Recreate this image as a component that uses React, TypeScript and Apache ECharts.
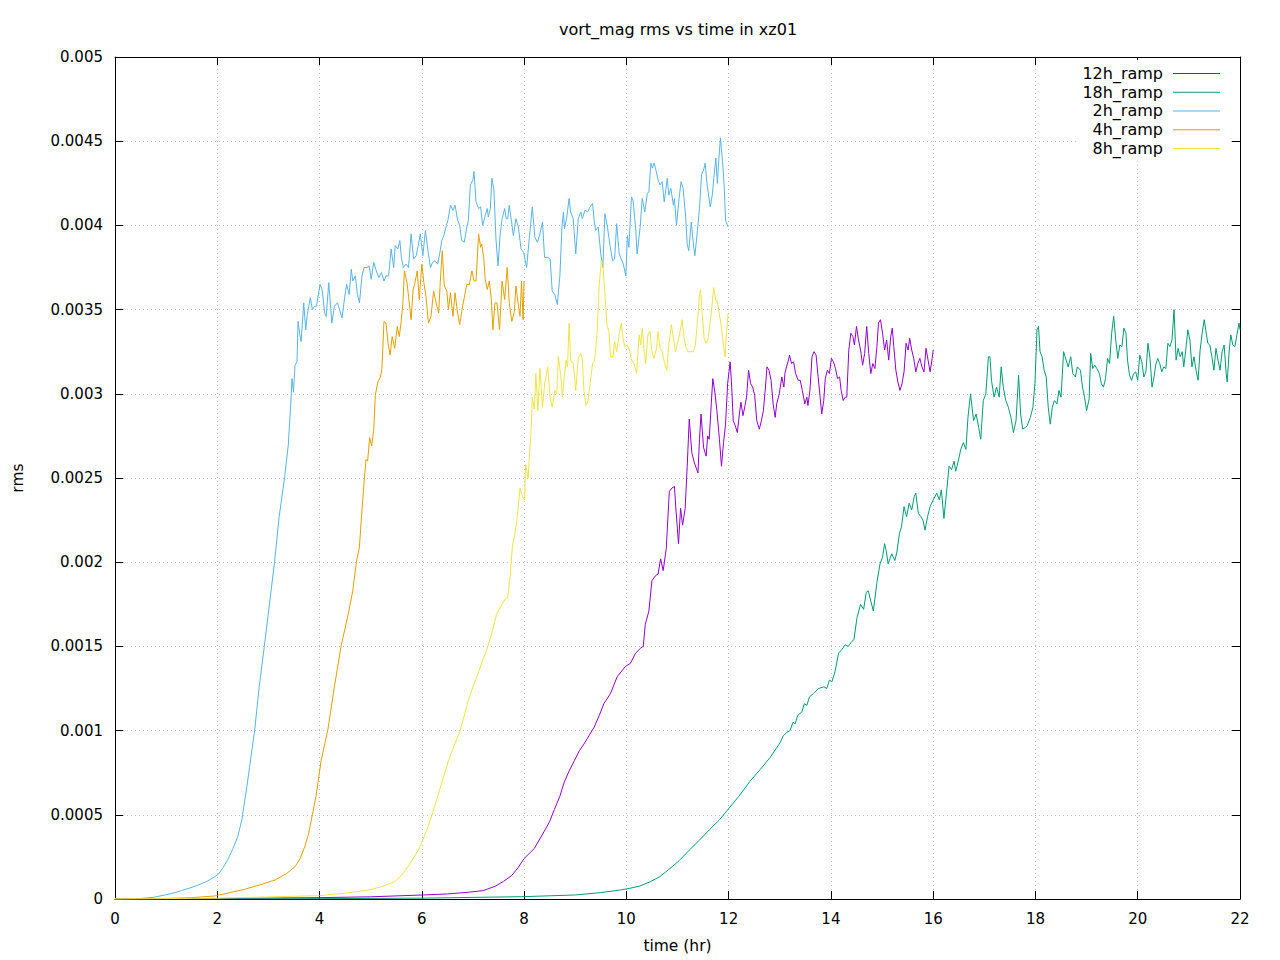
import React, { useEffect, useRef } from "react";
import * as echarts from "echarts";

// values in units of 1e-4 (rms), times in hours
const SCALE = 1e-4;
const seriesNames = ["12h_ramp", "18h_ramp", "2h_ramp", "4h_ramp", "8h_ramp"];
const seriesColors = ["#9400d3", "#009e73", "#56b4e9", "#e69f00", "#f0e442"];
const xTicks = { min: 0, max: 22, interval: 2 };
const yTicks = { min: 0, max: 0.005, interval: 0.0005 };

const ramp12h: number[][] = [
[0,0],[2,0.03],[4,0.08],[5,0.13],[6.03,0.24],[6.5,0.3],[6.91,0.4],[7.2,0.5],[7.43,0.75],[7.6,1.05],[7.76,1.4],[7.88,1.85],[8.0,2.4],[8.2,3.0],[8.39,4.0],[8.5,4.6],[8.59,5.3],[8.7,6.1],[8.78,6.9],[8.88,7.6],[8.98,8.2],[9.08,8.8],[9.17,9.2],[9.27,9.7],[9.37,10.2],[9.47,10.9],[9.56,11.6],[9.69,12.2],[9.82,13.2],[9.98,13.8],[10.08,14.0],[10.18,14.6],[10.28,14.9],[10.33,15.0],[10.37,16.3],[10.44,17.1],[10.5,18.9],[10.57,19.2],[10.62,19.3],[10.67,20.2],[10.72,19.5],[10.78,20.8],[10.84,24.2],[10.89,24.4],[10.94,24.5],[10.97,23.1],[11.02,21.1],[11.06,23.2],[11.1,22.2],[11.15,23.2],[11.19,25.7],[11.23,28.5],[11.28,26.5],[11.33,25.9],[11.4,25.3],[11.43,27.3],[11.46,28.8],[11.51,26.8],[11.56,26.3],[11.59,27.5],[11.62,27.3],[11.66,29.4],[11.69,30.9],[11.73,30.1],[11.77,29.0],[11.82,27.3],[11.86,25.7],[11.9,27.1],[11.94,28.2],[11.98,30.6],[12.03,31.9],[12.06,30.4],[12.09,28.4],[12.13,28.1],[12.17,27.7],[12.21,28.8],[12.24,29.5],[12.28,28.7],[12.32,29.3],[12.35,29.8],[12.39,31.4],[12.43,30.6],[12.47,30.4],[12.51,29.9],[12.55,28.4],[12.6,27.9],[12.64,28.4],[12.68,29.0],[12.72,30.4],[12.75,31.6],[12.79,31.4],[12.83,30.8],[12.87,29.4],[12.91,28.6],[12.94,29.4],[12.99,30.0],[13.04,31.0],[13.08,30.4],[13.1,31.2],[13.14,31.7],[13.17,32.0],[13.19,32.3],[13.23,31.8],[13.27,31.9],[13.31,31.2],[13.36,30.8],[13.4,30.8],[13.44,30.2],[13.49,29.4],[13.53,29.8],[13.55,29.3],[13.59,30.2],[13.63,32.2],[13.67,32.5],[13.71,32.3],[13.75,31.0],[13.79,29.8],[13.82,28.8],[13.86,29.6],[13.89,30.9],[13.93,31.4],[13.97,31.2],[14.01,32.1],[14.05,31.9],[14.09,31.5],[14.13,30.9],[14.17,31.0],[14.2,30.2],[14.24,29.6],[14.28,29.8],[14.31,29.8],[14.35,32.6],[14.39,33.6],[14.43,33.4],[14.46,32.9],[14.5,34.0],[14.54,33.2],[14.58,32.6],[14.62,31.7],[14.66,32.4],[14.7,34.0],[14.74,32.4],[14.78,31.2],[14.82,31.8],[14.86,31.5],[14.9,32.8],[14.93,34.2],[14.97,34.4],[15.01,33.6],[15.05,32.6],[15.09,33.2],[15.13,32.0],[15.17,33.4],[15.2,33.9],[15.23,32.8],[15.27,31.4],[15.31,30.7],[15.35,30.2],[15.39,30.6],[15.43,31.3],[15.47,33.0],[15.51,32.6],[15.54,33.3],[15.58,32.6],[15.62,32.1],[15.66,31.3],[15.7,31.8],[15.74,32.1],[15.78,31.6],[15.82,31.3],[15.86,32.7],[15.9,32.0],[15.94,31.3],[15.98,32.1],[16.0,32.6]
];

const ramp18h: number[][] = [
[0,0],[4,0.02],[6,0.05],[8,0.14],[9,0.24],[9.5,0.38],[9.87,0.53],[10.06,0.63],[10.26,0.77],[10.45,1.0],[10.65,1.32],[10.85,1.8],[11.04,2.3],[11.23,2.9],[11.43,3.5],[11.62,4.1],[11.82,4.7],[12.01,5.4],[12.2,6.1],[12.42,7.0],[12.62,7.7],[12.81,8.4],[13.01,9.3],[13.07,9.7],[13.14,9.9],[13.2,10.0],[13.26,10.5],[13.3,10.4],[13.35,10.9],[13.43,11.1],[13.48,11.6],[13.53,11.5],[13.58,12.0],[13.66,12.2],[13.76,12.5],[13.86,12.6],[13.92,12.5],[13.97,13.0],[14.02,12.9],[14.08,13.5],[14.15,14.6],[14.21,14.8],[14.28,15.1],[14.34,15.0],[14.41,15.3],[14.45,15.4],[14.51,16.7],[14.58,17.5],[14.64,17.2],[14.69,18.2],[14.73,18.3],[14.78,17.7],[14.83,17.1],[14.9,18.8],[14.96,19.9],[15.01,20.3],[15.05,21.1],[15.08,20.7],[15.12,19.9],[15.19,20.5],[15.25,20.1],[15.29,20.6],[15.34,21.7],[15.38,22.1],[15.43,23.3],[15.48,22.7],[15.53,23.5],[15.58,23.1],[15.63,23.9],[15.66,24.1],[15.71,22.9],[15.76,22.7],[15.8,22.5],[15.84,21.9],[15.89,22.7],[15.94,23.3],[16.0,23.7],[16.07,24.1],[16.12,23.7],[16.16,24.3],[16.21,22.6],[16.26,24.1],[16.31,25.7],[16.36,25.5],[16.41,26.0],[16.44,25.4],[16.49,26.0],[16.54,26.7],[16.59,27.1],[16.64,26.7],[16.68,28.6],[16.73,30.0],[16.79,28.4],[16.84,28.8],[16.89,28.0],[16.93,27.3],[16.98,29.6],[17.03,30.0],[17.08,32.2],[17.11,32.2],[17.14,30.8],[17.19,29.8],[17.24,30.4],[17.29,29.8],[17.33,31.6],[17.37,30.4],[17.42,29.6],[17.47,29.2],[17.52,28.6],[17.57,27.7],[17.62,28.4],[17.67,31.1],[17.71,28.8],[17.75,27.9],[17.8,28.0],[17.84,28.1],[17.9,28.6],[17.95,29.2],[17.99,30.6],[18.03,33.8],[18.06,34.0],[18.09,32.5],[18.13,32.2],[18.17,31.4],[18.21,31.0],[18.25,29.2],[18.29,28.2],[18.33,29.2],[18.37,29.6],[18.42,29.4],[18.46,30.2],[18.5,29.8],[18.55,32.5],[18.6,32.0],[18.64,31.6],[18.69,32.2],[18.73,31.2],[18.78,31.0],[18.82,31.6],[18.88,31.4],[18.92,30.4],[18.96,29.8],[19.0,29.0],[19.05,29.7],[19.08,32.4],[19.12,31.5],[19.16,31.7],[19.2,31.5],[19.25,31.2],[19.29,30.6],[19.33,30.4],[19.37,30.9],[19.41,32.1],[19.45,31.8],[19.49,33.6],[19.53,34.6],[19.57,33.2],[19.61,32.1],[19.65,32.9],[19.69,32.8],[19.73,33.9],[19.77,33.6],[19.8,32.0],[19.84,31.1],[19.88,30.8],[19.92,31.2],[19.96,31.3],[20.0,30.8],[20.04,32.3],[20.08,31.9],[20.12,31.0],[20.16,31.3],[20.2,33.0],[20.24,32.1],[20.28,30.4],[20.32,31.0],[20.35,31.7],[20.39,32.1],[20.43,31.8],[20.47,31.3],[20.51,31.6],[20.55,31.5],[20.59,33.0],[20.63,32.8],[20.67,33.2],[20.71,35.0],[20.75,32.0],[20.79,32.7],[20.83,32.2],[20.87,32.5],[20.9,31.6],[20.94,32.6],[20.98,33.8],[21.02,33.2],[21.06,31.6],[21.1,32.2],[21.14,31.4],[21.18,30.8],[21.22,32.6],[21.26,33.6],[21.3,34.4],[21.33,33.8],[21.37,33.0],[21.41,32.9],[21.45,32.2],[21.49,31.4],[21.53,32.7],[21.57,32.0],[21.61,31.4],[21.65,32.5],[21.69,32.9],[21.73,31.2],[21.75,30.7],[21.79,32.6],[21.82,33.5],[21.86,32.9],[21.9,32.8],[21.94,33.5],[21.98,34.2],[22.0,33.8]
];

const ramp2h: number[][] = [
[0,0],[0.5,0.03],[0.75,0.1],[0.98,0.24],[1.15,0.36],[1.3,0.5],[1.47,0.66],[1.63,0.83],[1.8,1.05],[1.95,1.32],[2.03,1.5],[2.1,1.8],[2.2,2.3],[2.3,2.95],[2.4,3.7],[2.48,4.7],[2.53,5.7],[2.58,6.7],[2.63,7.8],[2.68,8.9],[2.73,10.0],[2.82,12.6],[2.92,15.0],[3.02,17.5],[3.12,20.0],[3.21,22.7],[3.32,25.1],[3.39,27.0],[3.45,30.1],[3.46,30.9],[3.49,30.1],[3.52,31.7],[3.56,31.9],[3.58,34.3],[3.61,33.6],[3.64,33.1],[3.69,35.4],[3.73,33.8],[3.76,34.7],[3.82,35.7],[3.86,35.0],[3.9,35.2],[3.94,35.2],[4.01,36.5],[4.05,36.2],[4.1,34.8],[4.13,34.6],[4.18,36.6],[4.24,34.2],[4.29,35.2],[4.35,35.4],[4.39,35.0],[4.44,34.5],[4.49,35.7],[4.53,36.5],[4.58,35.9],[4.62,37.4],[4.65,36.7],[4.7,37.0],[4.74,35.9],[4.78,35.4],[4.83,37.0],[4.87,37.5],[4.93,37.5],[4.97,37.6],[5.01,36.8],[5.06,37.8],[5.11,37.3],[5.16,36.9],[5.21,37.2],[5.26,36.7],[5.3,37.0],[5.35,37.0],[5.4,38.6],[5.45,37.5],[5.48,38.8],[5.53,38.6],[5.57,39.1],[5.6,38.1],[5.64,37.5],[5.69,37.7],[5.74,37.5],[5.79,39.5],[5.84,38.0],[5.89,38.2],[5.93,38.8],[5.97,39.5],[6.02,38.2],[6.07,39.7],[6.12,38.5],[6.17,37.5],[6.21,37.8],[6.26,37.9],[6.31,37.7],[6.36,38.5],[6.39,39.1],[6.43,39.4],[6.48,40.0],[6.51,40.3],[6.56,41.2],[6.61,40.9],[6.65,41.2],[6.7,40.3],[6.74,40.0],[6.78,39.1],[6.83,39.0],[6.88,39.9],[6.91,40.3],[6.95,42.4],[7.0,42.7],[7.02,43.2],[7.06,41.4],[7.11,41.0],[7.15,41.1],[7.19,40.0],[7.24,40.6],[7.28,41.0],[7.3,40.5],[7.34,41.0],[7.37,42.8],[7.41,42.1],[7.45,39.2],[7.49,37.6],[7.53,39.4],[7.57,40.4],[7.62,41.0],[7.65,40.4],[7.68,40.4],[7.71,41.2],[7.76,40.1],[7.79,39.4],[7.84,40.4],[7.89,39.9],[7.94,38.6],[7.99,38.4],[8.05,37.5],[8.1,39.2],[8.16,41.1],[8.21,39.3],[8.26,39.0],[8.31,39.5],[8.36,40.2],[8.4,38.1],[8.46,38.1],[8.51,38.0],[8.55,36.1],[8.6,35.9],[8.65,35.3],[8.7,37.0],[8.74,39.9],[8.77,40.8],[8.79,39.8],[8.83,40.4],[8.88,41.6],[8.91,40.8],[8.96,40.4],[9.01,38.3],[9.06,40.4],[9.11,40.8],[9.14,40.4],[9.19,40.9],[9.24,40.8],[9.29,41.1],[9.34,41.3],[9.37,40.3],[9.4,39.7],[9.45,39.9],[9.5,38.3],[9.54,37.5],[9.58,40.7],[9.63,39.9],[9.68,38.8],[9.73,37.9],[9.77,38.0],[9.81,40.1],[9.86,38.3],[9.9,38.0],[9.94,37.7],[9.99,37.0],[10.02,39.4],[10.05,38.7],[10.1,41.7],[10.13,41.5],[10.18,39.9],[10.21,38.3],[10.27,39.9],[10.31,41.6],[10.36,40.8],[10.41,41.9],[10.44,42.0],[10.48,43.7],[10.51,43.4],[10.54,43.7],[10.57,43.4],[10.62,42.7],[10.66,42.4],[10.7,42.6],[10.74,41.4],[10.77,42.1],[10.8,42.8],[10.83,41.8],[10.87,42.2],[10.92,41.2],[10.94,41.6],[10.98,40.0],[11.03,41.6],[11.07,42.6],[11.11,42.2],[11.16,40.5],[11.19,38.9],[11.22,38.5],[11.27,40.2],[11.31,38.9],[11.34,38.2],[11.39,39.7],[11.43,41.0],[11.47,43.0],[11.52,43.4],[11.54,43.7],[11.58,42.4],[11.64,41.1],[11.68,41.8],[11.71,42.8],[11.75,44.0],[11.78,42.5],[11.81,44.0],[11.84,45.2],[11.88,43.8],[11.91,42.5],[11.94,40.3],[11.99,39.9]
];

const ramp4h: number[][] = [
[0,0],[1,0.03],[1.5,0.08],[1.95,0.18],[2.5,0.55],[2.85,0.85],[3.13,1.13],[3.35,1.5],[3.52,1.92],[3.62,2.4],[3.71,3.1],[3.78,3.8],[3.84,4.7],[3.93,6.1],[4.03,8.2],[4.1,9.2],[4.16,10.0],[4.29,12.6],[4.42,15.0],[4.56,16.9],[4.65,18.3],[4.72,20.0],[4.78,20.9],[4.82,22.7],[4.88,25.1],[4.91,26.1],[4.94,26.0],[4.98,27.4],[5.02,26.9],[5.06,27.9],[5.09,29.9],[5.14,30.7],[5.19,31.0],[5.22,31.5],[5.26,34.3],[5.3,34.2],[5.34,33.0],[5.38,32.3],[5.42,33.4],[5.47,32.7],[5.52,34.0],[5.56,33.4],[5.6,34.4],[5.63,35.4],[5.66,37.3],[5.71,36.6],[5.74,35.8],[5.79,34.4],[5.83,36.2],[5.86,36.5],[5.91,37.3],[5.95,35.6],[6.0,37.7],[6.04,36.6],[6.08,35.8],[6.13,34.2],[6.18,34.6],[6.23,36.1],[6.28,35.4],[6.33,34.8],[6.36,36.6],[6.4,38.5],[6.44,36.4],[6.49,36.1],[6.52,35.0],[6.56,36.0],[6.61,34.6],[6.65,36.0],[6.69,35.0],[6.74,34.1],[6.78,34.9],[6.83,35.7],[6.88,36.5],[6.93,36.5],[6.98,37.3],[7.02,36.7],[7.06,36.7],[7.11,39.5],[7.15,38.7],[7.17,38.9],[7.21,38.1],[7.24,36.8],[7.28,36.2],[7.32,36.7],[7.36,35.6],[7.39,33.8],[7.43,35.4],[7.47,35.4],[7.52,33.8],[7.57,36.7],[7.62,35.6],[7.67,37.5],[7.71,35.4],[7.76,34.3],[7.81,34.9],[7.84,36.4],[7.89,35.2],[7.92,34.6],[7.95,36.7],[7.98,34.4],[8.0,36.7]
];

const ramp8h: number[][] = [
[0,0],[2,0.05],[4.0,0.2],[4.5,0.35],[4.95,0.53],[5.2,0.72],[5.47,1.03],[5.6,1.4],[5.73,1.92],[5.83,2.4],[5.93,2.9],[6.02,3.5],[6.12,4.3],[6.2,5.0],[6.29,5.9],[6.4,7.0],[6.52,8.2],[6.63,9.1],[6.75,10.0],[6.83,10.9],[6.91,11.8],[7.0,12.6],[7.1,13.4],[7.18,14.1],[7.27,14.8],[7.37,15.8],[7.46,16.9],[7.55,17.4],[7.63,17.8],[7.68,17.9],[7.73,19.3],[7.77,20.9],[7.82,21.7],[7.86,22.5],[7.92,24.4],[7.97,23.9],[8.01,23.7],[8.03,25.8],[8.08,25.0],[8.11,26.6],[8.14,28.0],[8.16,29.8],[8.2,29.1],[8.23,31.2],[8.27,29.0],[8.31,31.5],[8.36,29.2],[8.4,30.5],[8.46,31.6],[8.51,29.8],[8.55,29.2],[8.6,30.2],[8.64,30.0],[8.67,32.2],[8.72,31.0],[8.75,29.8],[8.78,30.8],[8.82,32.0],[8.85,31.6],[8.88,34.2],[8.91,32.0],[8.96,31.8],[9.01,30.2],[9.06,32.1],[9.11,32.4],[9.14,32.0],[9.17,30.2],[9.21,29.3],[9.25,29.6],[9.29,30.6],[9.34,31.8],[9.38,32.0],[9.43,33.7],[9.47,36.5],[9.51,37.9],[9.54,37.7],[9.58,35.9],[9.62,34.1],[9.66,33.7],[9.69,32.2],[9.74,32.2],[9.77,33.1],[9.81,32.5],[9.86,33.5],[9.9,34.2],[9.94,33.2],[9.97,32.8],[10.02,32.9],[10.07,32.5],[10.1,32.0],[10.15,31.8],[10.2,31.2],[10.25,33.5],[10.28,32.9],[10.31,33.9],[10.35,32.5],[10.38,31.8],[10.42,33.5],[10.46,33.7],[10.5,32.5],[10.54,32.1],[10.59,32.7],[10.62,33.7],[10.66,32.7],[10.7,32.5],[10.75,31.8],[10.79,31.4],[10.83,32.9],[10.88,34.1],[10.92,33.3],[10.96,32.5],[11.01,33.1],[11.05,33.7],[11.09,34.4],[11.13,33.3],[11.17,32.7],[11.21,32.5],[11.26,32.5],[11.31,32.5],[11.35,32.9],[11.39,34.3],[11.43,35.9],[11.45,36.2],[11.49,34.5],[11.52,33.3],[11.56,33.0],[11.6,33.3],[11.65,34.5],[11.69,35.7],[11.71,36.3],[11.75,35.5],[11.78,35.5],[11.82,34.7],[11.86,33.9],[11.9,32.9],[11.93,32.2],[11.96,33.7],[11.99,34.8]
];

const seriesData = [ramp12h, ramp18h, ramp2h, ramp4h, ramp8h];

const FONT = "DejaVu Sans";

export default function App() {
  const ref = useRef<HTMLDivElement>(null);
  useEffect(() => {
    if (!ref.current) return;
    const chart = echarts.init(ref.current, null, { renderer: "svg" });
    const fmtY = (v: number) => (v === 0 ? "0" : String(parseFloat(v.toFixed(4))));
    const tickCommon = { show: true, inside: true, length: 8, lineStyle: { color: "#000", width: 1 } };
    const lineCommon = { show: true, onZero: false, lineStyle: { color: "#000", width: 1 } };
    chart.setOption({
      animation: false,
      backgroundColor: "#fff",
      color: seriesColors,
      textStyle: { fontFamily: FONT },
      title: {
        text: "vort_mag rms vs time in xz01",
        left: 559,
        top: 21,
        padding: 0,
        textStyle: { fontFamily: FONT, fontSize: 16, fontWeight: "normal", color: "#000" },
      },
      grid: { left: 115, right: 40, top: 57, bottom: 61, containLabel: false },
      legend: {
        orient: "vertical",
        right: 52,
        top: 60,
        align: "right",
        icon: "rect",
        itemWidth: 47,
        itemHeight: 1,
        itemGap: 0,
        padding: [4, 8, 4, 6],
        backgroundColor: "#fff",
        selectedMode: false,
        data: seriesNames.map((name, i) => ({ name, itemStyle: { color: seriesColors[i], borderWidth: 0 } })),
        textStyle: { fontFamily: FONT, fontSize: 16, color: "#000", lineHeight: 18.75, padding: [0, 5, 0, 0] },
      },
      xAxis: [
        {
          type: "value",
          ...xTicks,
          name: "time (hr)",
          nameLocation: "middle",
          nameGap: 39,
          nameTextStyle: { fontFamily: FONT, fontSize: 15.5, color: "#000" },
          axisLine: lineCommon,
          axisTick: tickCommon,
          axisLabel: { margin: 12, fontFamily: FONT, fontSize: 15, color: "#000" },
          splitLine: { show: true, lineStyle: { color: "#c0c0c0", width: 1, type: [1, 3] } },
        },
        {
          type: "value",
          position: "top",
          ...xTicks,
          axisLine: lineCommon,
          axisTick: tickCommon,
          axisLabel: { show: false },
          splitLine: { show: false },
        },
      ],
      yAxis: [
        {
          type: "value",
          ...yTicks,
          name: "rms",
          nameLocation: "middle",
          nameGap: 89,
          nameRotate: 90,
          nameTextStyle: { fontFamily: FONT, fontSize: 15.5, color: "#000" },
          axisLine: lineCommon,
          axisTick: tickCommon,
          axisLabel: { margin: 12, fontFamily: FONT, fontSize: 15, color: "#000", formatter: fmtY },
          splitLine: { show: true, lineStyle: { color: "#c0c0c0", width: 1, type: [1, 3] } },
        },
        {
          type: "value",
          position: "right",
          ...yTicks,
          axisLine: lineCommon,
          axisTick: tickCommon,
          axisLabel: { show: false },
          splitLine: { show: false },
        },
      ],
      series: seriesNames.map((name, i) => ({
        name,
        type: "line",
        xAxisIndex: 0,
        yAxisIndex: 0,
        showSymbol: false,
        symbol: "none",
        silent: true,
        clip: true,
        itemStyle: { color: seriesColors[i] },
        lineStyle: { color: seriesColors[i], width: 1 },
        data: seriesData[i].map(([t, v]) => [t, v * SCALE]),
      })),
    });
    return () => chart.dispose();
  }, []);
  return <div ref={ref} style={{ position: "fixed", left: 0, top: 0, width: 1280, height: 960 }} />;
}
